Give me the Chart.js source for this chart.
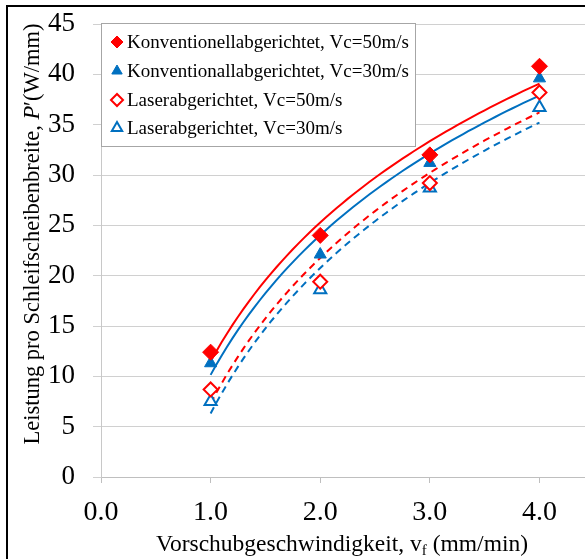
<!DOCTYPE html>
<html lang="de">
<head>
    <meta charset="UTF-8">
    <title>Leistung pro Schleifscheibenbreite</title>
    <script src="https://cdn.jsdelivr.net/npm/chart.js"></script>
    <style>
        html, body { margin: 0; padding: 0; background: #fff; }
        .wrap { width: 585px; height: 559px; overflow: hidden; position: relative; }
        canvas { display: block; }
    </style>
</head>
<body>
    <div class="wrap">
        <canvas id="powerChart" width="600" height="559"></canvas>
    </div>

    <script>
        const feedRates = [1.0, 2.0, 3.0, 4.0];
        const konv50 = [12.4, 24.0, 32.0, 40.8];
        const konv30 = [11.3, 22.1, 31.2, 39.6];
        const laser50 = [8.7, 19.4, 29.2, 38.2];
        const laser30 = [7.5, 18.6, 28.7, 36.7];

        const seriesLabels = [
            'Konventionellabgerichtet, Vc=50m/s',
            'Konventionallabgerichtet, Vc=30m/s',
            'Laserabgerichtet, Vc=50m/s',
            'Laserabgerichtet, Vc=30m/s'
        ];
        const yTicks = [0, 5, 10, 15, 20, 25, 30, 35, 40, 45];
        const xTicks = [0, 1, 2, 3, 4];

        const RED = '#ff0000';
        const BLUE = '#0070c0';
        const FONT = '"Liberation Serif", "Times New Roman", serif';

        // logarithmische Trendlinie wie in Excel: y = a*ln(x) + b
        function logTrend(xs, ys) {
            let n = xs.length, sl = 0, sy = 0, sll = 0, sly = 0;
            for (let i = 0; i < n; i++) {
                let l = Math.log(xs[i]);
                sl += l; sy += ys[i]; sll += l * l; sly += l * ys[i];
            }
            let a = (n * sly - sl * sy) / (n * sll - sl * sl);
            let b = (sy - a * sl) / n;
            let pts = [];
            for (let x = xs[0]; x <= xs[n - 1] + 1e-9; x += 0.05) {
                pts.push({ x: x, y: a * Math.log(x) + b });
            }
            return pts;
        }

        function points(ys) {
            return feedRates.map((x, i) => ({ x: x, y: ys[i] }));
        }

        let markerSets = [
            { label: seriesLabels[0], data: points(konv50), pointStyle: 'rectRot', pointRadius: 8,
              backgroundColor: RED, borderColor: RED, pointBorderWidth: 1 },
            { label: seriesLabels[1], data: points(konv30), pointStyle: 'triangle', pointRadius: 7,
              backgroundColor: BLUE, borderColor: BLUE, pointBorderWidth: 1 },
            { label: seriesLabels[2], data: points(laser50), pointStyle: 'rectRot', pointRadius: 7,
              backgroundColor: '#fff', borderColor: RED, pointBorderWidth: 2 },
            { label: seriesLabels[3], data: points(laser30), pointStyle: 'triangle', pointRadius: 7,
              backgroundColor: '#fff', borderColor: BLUE, pointBorderWidth: 2 }
        ];
        markerSets.forEach(d => { d.showLine = false; d.order = 0; });

        let trendSets = [
            { data: logTrend(feedRates, konv50), borderColor: RED, borderDash: [] },
            { data: logTrend(feedRates, konv30), borderColor: BLUE, borderDash: [] },
            { data: logTrend(feedRates, laser50), borderColor: RED, borderDash: [7, 5] },
            { data: logTrend(feedRates, laser30), borderColor: BLUE, borderDash: [7, 5] }
        ];
        trendSets.forEach(d => {
            d.label = 'trend';
            d.showLine = true;
            d.pointRadius = 0;
            d.borderWidth = 2;
            d.tension = 0;
            d.order = 1;
        });

        // Legende, Achsentitel und Rahmen
        const decorations = {
            id: 'decorations',
            afterDatasetsDraw(chart) {
                let ctx = chart.ctx;
                ctx.save();
                // Legendenkasten
                let bx = 101.5, by = 23.5, bw = 314, bh = 123;
                ctx.fillStyle = '#fff';
                ctx.fillRect(bx, by, bw, bh);
                ctx.strokeStyle = '#a6a6a6';
                ctx.lineWidth = 1;
                ctx.strokeRect(bx, by, bw, bh);

                let rows = [42, 71, 100, 128];
                markerSets.forEach((d, i) => {
                    ctx.fillStyle = d.backgroundColor;
                    ctx.strokeStyle = d.borderColor;
                    ctx.lineWidth = d.pointBorderWidth;
                    Chart.helpers.drawPoint(ctx, {
                        pointStyle: d.pointStyle,
                        radius: 6,
                        borderWidth: d.pointBorderWidth,
                        rotation: 0
                    }, 117, rows[i]);
                    ctx.font = '19px ' + FONT;
                    ctx.fillStyle = '#000';
                    ctx.textAlign = 'left';
                    ctx.textBaseline = 'middle';
                    ctx.fillText(d.label, 127, rows[i] + 1);
                });
                ctx.restore();
            },
            afterDraw(chart) {
                let ctx = chart.ctx;
                ctx.save();
                ctx.fillStyle = '#000';
                ctx.textBaseline = 'middle';

                // y-Achsentitel
                let parts = [
                    ['Leistung pro Schleifscheibenbreite, ', ''],
                    ['P', 'italic '],
                    ['\u2032(W/mm)', '']
                ];
                let total = 0;
                parts.forEach(p => { ctx.font = p[1] + '22.5px ' + FONT; total += ctx.measureText(p[0]).width; });
                ctx.translate(33, 234);
                ctx.rotate(-Math.PI / 2);
                let x = -total / 2;
                ctx.textAlign = 'left';
                parts.forEach(p => {
                    ctx.font = p[1] + '22.5px ' + FONT;
                    ctx.fillText(p[0], x, 0);
                    x += ctx.measureText(p[0]).width;
                });
                ctx.setTransform(1, 0, 0, 1, 0, 0);

                // x-Achsentitel mit Index
                let a = 'Vorschubgeschwindigkeit, v';
                let b = ' (mm/min)';
                ctx.font = '15px ' + FONT;
                let wf = ctx.measureText('f').width;
                ctx.font = '23.5px ' + FONT;
                let w = ctx.measureText(a).width + wf + ctx.measureText(b).width;
                let sx = 342 - w / 2, sy = 545;
                ctx.fillText(a, sx, sy);
                sx += ctx.measureText(a).width;
                ctx.font = '15px ' + FONT;
                ctx.fillText('f', sx, sy + 6);
                sx += wf;
                ctx.font = '23.5px ' + FONT;
                ctx.fillText(b, sx, sy);

                // Rahmen oben und links
                ctx.strokeStyle = '#000';
                ctx.lineWidth = 2;
                ctx.beginPath();
                ctx.moveTo(7, 600);
                ctx.lineTo(7, 6);
                ctx.lineTo(600, 6);
                ctx.stroke();
                ctx.restore();
            }
        };

        let ctx = document.getElementById('powerChart').getContext('2d');
        let powerChart = new Chart(ctx, {
            type: 'scatter',
            data: { datasets: markerSets.concat(trendSets) },
            options: {
                responsive: false,
                animation: false,
                layout: { padding: { left: 0, top: 24, right: 0, bottom: 0 } },
                plugins: {
                    legend: { display: false },
                    tooltip: { enabled: false }
                },
                scales: {
                    x: {
                        type: 'linear',
                        min: 0,
                        max: 4.47,
                        afterBuildTicks: s => { s.ticks = xTicks.map(v => ({ value: v })); },
                        afterFit: s => {
                            s.height = 82;
                            s.paddingLeft = 0;
                            s.paddingRight = 0;
                        },
                        grid: {
                            drawOnChartArea: false,
                            color: '#bfbfbf',
                            tickLength: 6
                        },
                        border: { color: '#bfbfbf' },
                        ticks: {
                            color: '#000',
                            padding: 13,
                            maxRotation: 0,
                            font: { family: FONT, size: 28 },
                            callback: v => v.toFixed(1)
                        }
                    },
                    y: {
                        min: 0,
                        max: 45,
                        afterBuildTicks: s => { s.ticks = yTicks.map(v => ({ value: v })); },
                        afterFit: s => {
                            s.width = 101;
                            s.paddingTop = 0;
                            s.paddingBottom = 0;
                        },
                        grid: {
                            color: '#d0d0d0',
                            tickLength: 8
                        },
                        border: { color: '#c8c8c8' },
                        ticks: {
                            color: '#000',
                            padding: 18,
                            font: { family: FONT, size: 27 }
                        }
                    }
                }
            },
            plugins: [decorations]
        });
    </script>
</body>
</html>
